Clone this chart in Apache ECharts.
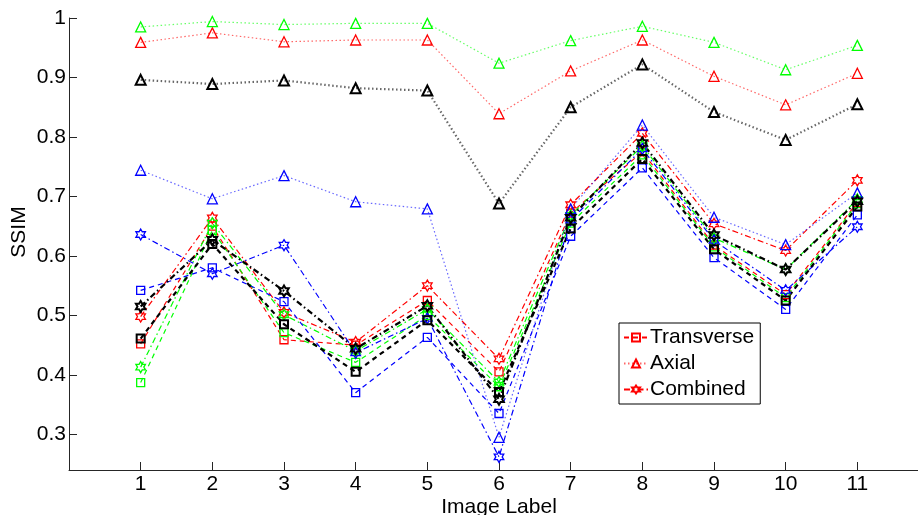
<!DOCTYPE html>
<html>
<head>
<meta charset="utf-8">
<script src="https://cdn.jsdelivr.net/npm/echarts@6/dist/echarts.min.js"></script>
<style>
html,body{margin:0;padding:0;background:#fff;}
#c{width:918px;height:515px;}
</style>
</head>
<body>
<div id="c"></div>
<script>
const imageLabels = [1, 2, 3, 4, 5, 6, 7, 8, 9, 10, 11];
const yTicks = [0.3, 0.4, 0.5, 0.6, 0.7, 0.8, 0.9, 1];

// Transverse (squares, dashed)
const transRed   = [0.452, 0.650, 0.459, 0.450, 0.525, 0.405, 0.672, 0.775, 0.618, 0.535, 0.690];
const transGreen = [0.387, 0.643, 0.471, 0.421, 0.500, 0.380, 0.655, 0.770, 0.615, 0.530, 0.688];
const transBlue  = [0.542, 0.580, 0.523, 0.370, 0.463, 0.335, 0.633, 0.748, 0.597, 0.510, 0.669];
const transBlack = [0.461, 0.620, 0.485, 0.405, 0.492, 0.371, 0.646, 0.763, 0.611, 0.525, 0.683];

// Axial (triangles, dotted)
const axialRed   = [0.959, 0.975, 0.960, 0.963, 0.963, 0.839, 0.911, 0.963, 0.902, 0.854, 0.907];
const axialGreen = [0.985, 0.994, 0.989, 0.991, 0.991, 0.924, 0.962, 0.986, 0.959, 0.913, 0.954];
const axialBlue  = [0.744, 0.696, 0.735, 0.691, 0.679, 0.295, 0.679, 0.820, 0.665, 0.619, 0.706];
const axialBlack = [0.896, 0.889, 0.895, 0.882, 0.878, 0.688, 0.850, 0.922, 0.842, 0.795, 0.855];

// Combined (hexagrams, dash-dot)
const combRed   = [0.498, 0.664, 0.505, 0.455, 0.550, 0.427, 0.686, 0.806, 0.654, 0.609, 0.727];
const combGreen = [0.413, 0.655, 0.501, 0.440, 0.510, 0.388, 0.668, 0.785, 0.630, 0.577, 0.695];
const combBlue  = [0.636, 0.570, 0.618, 0.437, 0.495, 0.262, 0.660, 0.780, 0.626, 0.542, 0.649];
const combBlack = [0.515, 0.627, 0.541, 0.444, 0.516, 0.359, 0.664, 0.790, 0.635, 0.577, 0.692];

const HEX = 'path://M0,-100 L28.9,-50 L86.6,-50 L57.7,0 L86.6,50 L28.9,50 L0,100 L-28.9,50 L-86.6,50 L-57.7,0 L-86.6,-50 L-28.9,-50 Z';

const styles = {
  trans: {symbol: 'rect', size: 8, type: [5, 4]},
  axial: {symbol: 'triangle', size: 10, type: [1.5, 2.5]},
  comb:  {symbol: HEX, size: 11, type: [6, 3, 1.5, 3]}
};

function mk(name, kind, color, vals) {
  const st = styles[kind];
  const black = color === '#000000';
  return {
    name: name,
    type: 'line',
    data: vals.map((v, i) => [imageLabels[i], v]),
    symbol: st.symbol,
    symbolSize: st.size,
    symbolKeepAspect: true,
    showAllSymbol: true,
    animation: false,
    lineStyle: {color: color, width: black ? 2.2 : 1.2, type: st.type, opacity: kind === 'axial' ? 0.6 : 1},
    itemStyle: {color: 'rgba(255,255,255,0)', borderColor: color, borderWidth: black ? 2 : 1.3},
    emphasis: {disabled: true}
  };
}

const series = [
  mk('Transverse', 'trans', '#ff0000', transRed),
  mk('Axial', 'axial', '#ff0000', axialRed),
  mk('Combined', 'comb', '#ff0000', combRed),
  mk('T-green', 'trans', '#00ff00', transGreen),
  mk('A-green', 'axial', '#00ff00', axialGreen),
  mk('C-green', 'comb', '#00ff00', combGreen),
  mk('T-blue', 'trans', '#0000ff', transBlue),
  mk('A-blue', 'axial', '#0000ff', axialBlue),
  mk('C-blue', 'comb', '#0000ff', combBlue),
  mk('T-black', 'trans', '#000000', transBlack),
  mk('A-black', 'axial', '#000000', axialBlack),
  mk('C-black', 'comb', '#000000', combBlack)
];

const FONT = '"Liberation Sans", Arial, sans-serif';
const FS = 21;
const chart = echarts.init(document.getElementById('c'), null, {renderer: 'canvas'});
chart.setOption({
  animation: false,
  backgroundColor: '#ffffff',
  textStyle: {fontFamily: FONT},
  grid: {left: 69, top: 18, right: -11, bottom: 45, containLabel: false, outerBoundsMode: 'none'},
  legend: {
    data: ['Transverse', 'Axial', 'Combined'],
    orient: 'vertical',
    left: 619, top: 323,
    padding: [4, 6, 4, 4],
    itemWidth: 24, itemHeight: 10, itemGap: 5,
    borderColor: '#000', borderWidth: 1, backgroundColor: '#fff',
    textStyle: {fontSize: FS, color: '#000', fontFamily: FONT, padding: [0, 0, 0, -3]},
    selectedMode: false
  },
  xAxis: {
    type: 'value', min: 0, max: 12, interval: 1,
    name: 'Image Label', nameLocation: 'middle', nameGap: 27, nameMoveOverlap: false,
    nameTextStyle: {fontSize: FS, color: '#000', fontFamily: FONT},
    axisLine: {lineStyle: {color: '#262626', width: 1}},
    axisTick: {inside: true, length: 8, customValues: imageLabels, lineStyle: {color: '#262626'}},
    axisLabel: {customValues: imageLabels, fontSize: FS, color: '#000', margin: 4, fontFamily: FONT},
    splitLine: {show: false}
  },
  yAxis: {
    type: 'value', min: 0.24, max: 1,
    name: 'SSIM', nameLocation: 'middle', nameGap: 39, nameRotate: 90, nameMoveOverlap: false,
    nameTextStyle: {fontSize: FS, color: '#000', fontFamily: FONT, padding: [0, 0, 0, 24]},
    axisLine: {show: true, lineStyle: {color: '#262626', width: 1}},
    axisTick: {show: true, inside: true, length: 8, customValues: yTicks, lineStyle: {color: '#262626'}},
    axisLabel: {customValues: yTicks, fontSize: FS, color: '#000', margin: 3, fontFamily: FONT,
      formatter: v => (Math.round(v * 10) / 10).toString()},
    splitLine: {show: false}
  },
  series: series
});
</script>
</body>
</html>
